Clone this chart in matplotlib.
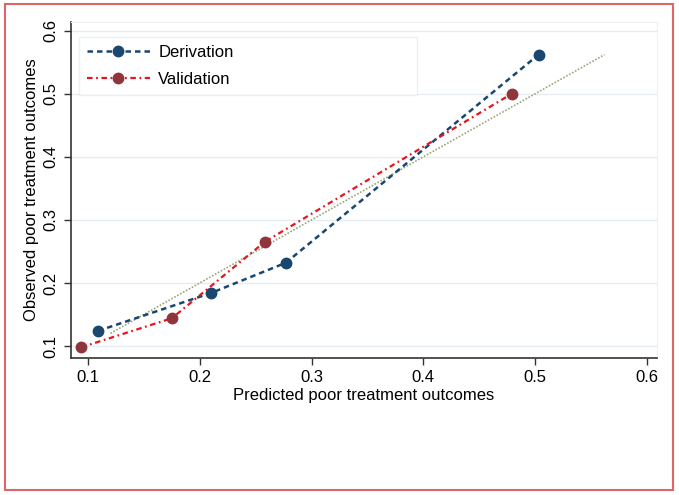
import matplotlib.pyplot as plt
from matplotlib.patches import Rectangle

plt.rcParams['font.family'] = ['Liberation Sans', 'DejaVu Sans']

# calibration points
deriv_pred = [0.109, 0.210, 0.277, 0.503]
deriv_obs = [0.124, 0.184, 0.232, 0.562]
valid_pred = [0.094, 0.175, 0.258, 0.479]
valid_obs = [0.098, 0.144, 0.265, 0.500]
ref_line = [0.120, 0.562]
ticks = [0.1, 0.2, 0.3, 0.4, 0.5, 0.6]

fig = plt.figure(figsize=(6.79, 4.95), dpi=100)
ax = fig.add_axes([0.1046, 0.2768, 0.863, 0.679])

# outer red frame
fig.patches.append(Rectangle((5 / 679, 5 / 495), 668 / 679, 486 / 495,
                             transform=fig.transFigure, fill=False,
                             edgecolor='#e06666', linewidth=1.5))

ax.plot(ref_line, ref_line, linestyle=(0, (1, 1)), color='#9aa77a',
        linewidth=1.2, zorder=2)
ax.plot(deriv_pred, deriv_obs, linestyle=(0, (2.2, 1.6)), color='#1a476f',
        linewidth=1.8, marker='o', markersize=7.5, label='Derivation', zorder=3)
ax.plot(valid_pred, valid_obs, linestyle=(0, (2.5, 1.6, 0.8, 1.6)), color='#e8141c',
        linewidth=1.6, marker='o', markersize=7.5, markerfacecolor='#90353b',
        markeredgecolor='#90353b', label='Validation', zorder=3)

ax.set_xlim(0.0848, 0.609)
ax.set_ylim(0.081, 0.614)
ax.set_xticks(ticks)
ax.set_yticks(ticks)
ax.set_xticklabels([str(t) for t in ticks], fontsize=12)
ax.set_yticklabels([str(t) for t in ticks], fontsize=12, rotation=90, va='center')
ax.tick_params(direction='out', length=5, width=1, color='#333333', pad=4)
ax.grid(True, axis='y', color='#e6edf2', linewidth=1)
ax.set_axisbelow(True)

for side in ['top', 'right']:
    ax.spines[side].set_color('#eef2f5')
for side in ['left', 'bottom']:
    ax.spines[side].set_color('#333333')
    ax.spines[side].set_linewidth(1.2)

ax.set_xlabel('Predicted poor treatment outcomes', fontsize=12, labelpad=2)
ax.set_ylabel('Observed poor treatment outcomes', fontsize=12, labelpad=3)

leg = ax.legend(loc='upper left', bbox_to_anchor=(0.0137, 0.795, 0.576, 0.16),
                mode='expand', fontsize=12, handlelength=3.8, numpoints=1,
                frameon=True, fancybox=False, borderpad=0.45, labelspacing=0.75,
                handletextpad=0.5, borderaxespad=0)
leg.get_frame().set_edgecolor('#e6edf2')
leg.get_frame().set_linewidth(1)

fig.savefig('out.png', dpi=100)
